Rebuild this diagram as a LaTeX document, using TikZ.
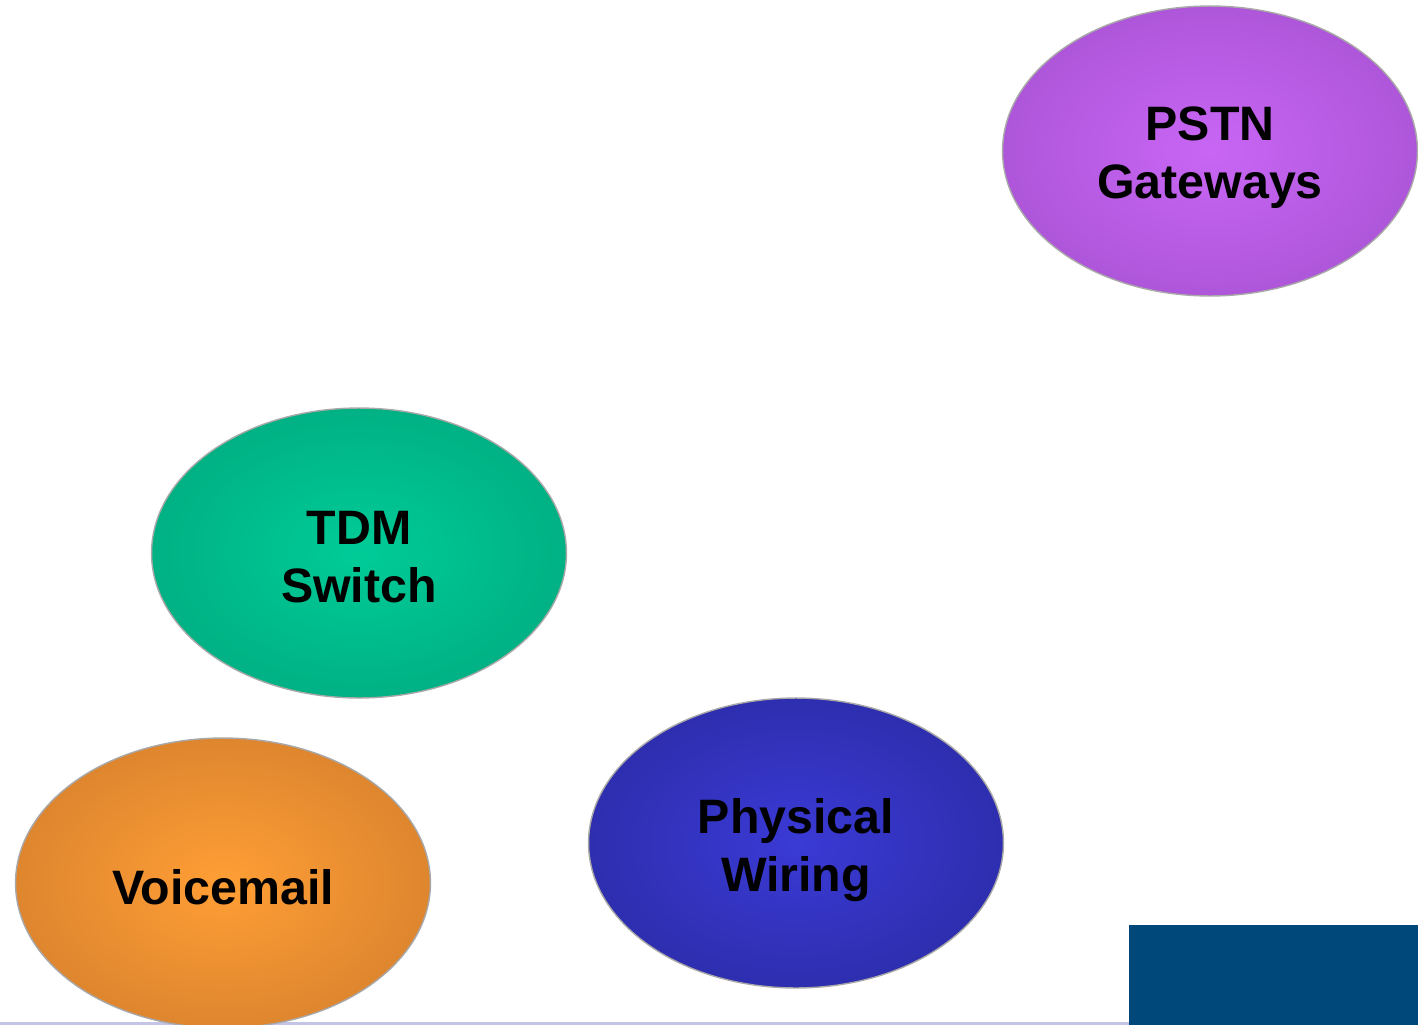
\documentclass[tikz,border=0pt]{standalone}
\usepackage{fontspec}
\setmainfont{Liberation Sans}
\usepackage{xcolor}
\definecolor{pstnmid}{HTML}{C966F5}
\definecolor{pstnrim}{HTML}{AE56DA}
\definecolor{tdmmid}{HTML}{00CC98}
\definecolor{tdmrim}{HTML}{00B184}
\definecolor{vmmid}{HTML}{FF9E35}
\definecolor{vmrim}{HTML}{DE862F}
\definecolor{wiremid}{HTML}{3A3AD6}
\definecolor{wirerim}{HTML}{2E2EAF}
\definecolor{rimline}{HTML}{A8A8A8}
\definecolor{cornerblue}{HTML}{00487A}
\definecolor{rulelav}{HTML}{C4C4E6}
\usetikzlibrary{shapes.geometric}

\begin{document}
\begin{tikzpicture}[
		x=0.02cm, y=-0.02cm,
		bubble/.style={ellipse, draw=rimline, line width=0.8pt,
			minimum width=8.3cm, minimum height=5.8cm, inner sep=0pt,
			shading=radial},
		bubbletext/.style={align=center, inner sep=0pt,
			font=\bfseries\fontsize{27.5}{33}\selectfont},
	]
		% Page frame
		\useasboundingbox (0,0) rectangle (1418,1025);

		% Bottom rule and corner block
		\fill[rulelav] (0,1022) rectangle (1129,1025);
		\fill[cornerblue] (1129,925) rectangle (1418,1025);

		% Bubbles
		\node[bubble, inner color=pstnmid, outer color=pstnrim] (pstn) at (1210,151) {};
		\node[bubble, inner color=tdmmid, outer color=tdmrim] (tdm) at (359,553) {};
		\node[bubble, inner color=wiremid, outer color=wirerim] (wiring) at (796,843) {};
		\node[bubble, inner color=vmmid, outer color=vmrim] (voicemail) at (223,883) {};

		% Bubble captions
		\node[bubbletext] (pstntext) at ([yshift=-3.6pt]pstn.center) {PSTN\\Gateways};
		\node[bubbletext] (tdmtext) at ([yshift=-2.6pt]tdm.center) {TDM\\Switch};
		\node[bubbletext] (wiringtext) at ([yshift=-3.8pt]wiring.center) {Physical\\Wiring};
		\node[bubbletext] (voicemailtext) at ([yshift=-2.4pt]voicemail.center) {Voicemail};
	\end{tikzpicture}
\end{document}
